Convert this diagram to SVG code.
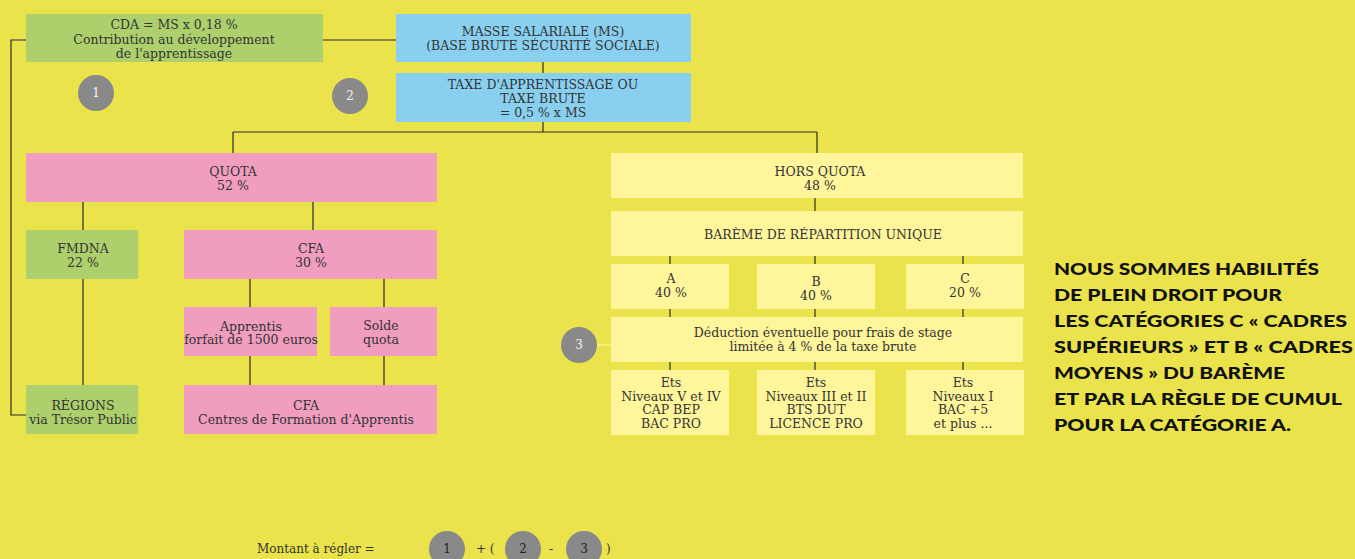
<svg xmlns="http://www.w3.org/2000/svg" width="1355" height="559" viewBox="0 0 1355 559">
<style>
.bg{fill:#EAE34B}
.g{fill:#AED06C}
.b{fill:#89D0F0}
.p{fill:#F09DC0}
.y{fill:#FFF59A}
.c{fill:#898989}
.t{font-family:"DejaVu Serif","Liberation Serif",serif;font-size:12.5px;fill:#333;text-anchor:middle}
.n{font-family:"DejaVu Serif","Liberation Serif",serif;font-size:12px;fill:#f2f2f2;text-anchor:middle}
.nd{font-family:"DejaVu Serif","Liberation Serif",serif;font-size:12px;fill:#222;text-anchor:middle}
.f{font-family:"DejaVu Serif","Liberation Serif",serif;font-size:12px;fill:#333}
.h{font-family:Lato,"Liberation Sans",Arial,sans-serif;font-size:17px;font-weight:900;fill:#111}
.ln{stroke:#2b2b2b;stroke-width:1.2;fill:none}
</style>
<rect class="bg" x="0" y="0" width="1355" height="559"/>
<g id="connectors">
<path class="ln" d="M323 40H396"/>
<path class="ln" d="M26 40H11V415H26"/>
<path class="ln" d="M543 62V73"/>
<path class="ln" d="M543 122V132M233 132H817M233 132V153M817 132V153"/>
<path class="ln" d="M83 202V230M313 202V230"/>
<path class="ln" d="M83 279V385"/>
<path class="ln" d="M250 279V307M384 279V307M250 356V385M384 356V385"/>
<path class="ln" d="M815 198V211"/>
<path class="ln" d="M670 256V264M815 256V264M963 256V264"/>
<path class="ln" d="M670 309V317M815 309V317M963 309V317"/>
<path class="ln" d="M670 362V370M815 362V370M963 362V370"/>
<path d="M597 345H611" stroke="#FFF59A" stroke-width="1.2"/>
</g>
<g id="cda"><rect class="g" x="26" y="14" width="297" height="48"/>
<text class="t" x="174" y="29">CDA = MS x 0,18 %</text>
<text class="t" x="174" y="44">Contribution au développement</text>
<text class="t" x="174" y="58">de l'apprentissage</text></g>
<g id="ms"><rect class="b" x="396" y="14" width="295" height="48"/>
<text class="t" x="543" y="36">MASSE SALARIALE (MS)</text>
<text class="t" x="543" y="50">(BASE BRUTE SÉCURITÉ SOCIALE)</text></g>
<g id="taxe"><rect class="b" x="396" y="73" width="295" height="49"/>
<text class="t" x="543" y="89">TAXE D'APPRENTISSAGE OU</text>
<text class="t" x="543" y="103">TAXE BRUTE</text>
<text class="t" x="543" y="117">= 0,5 % x MS</text></g>
<g id="c1"><circle class="c" cx="96" cy="93" r="18"/><text class="n" x="96" y="97">1</text></g>
<g id="c2"><circle class="c" cx="350" cy="96" r="18"/><text class="n" x="350" y="100">2</text></g>
<g id="quota"><rect class="p" x="26" y="153" width="411" height="49"/>
<text class="t" x="233" y="176">QUOTA</text>
<text class="t" x="233" y="190">52 %</text></g>
<g id="fmdna"><rect class="g" x="26" y="230" width="112" height="49"/>
<text class="t" x="83" y="253">FMDNA</text>
<text class="t" x="83" y="267">22 %</text></g>
<g id="cfa30"><rect class="p" x="184" y="230" width="253" height="49"/>
<text class="t" x="311" y="253">CFA</text>
<text class="t" x="311" y="267">30 %</text></g>
<g id="apprentis"><rect class="p" x="184" y="307" width="133" height="49"/>
<text class="t" x="251" y="331">Apprentis</text>
<text class="t" x="251" y="344">forfait de 1500 euros</text></g>
<g id="solde"><rect class="p" x="330" y="307" width="107" height="49"/>
<text class="t" x="381" y="330">Solde</text>
<text class="t" x="381" y="344">quota</text></g>
<g id="regions"><rect class="g" x="26" y="385" width="112" height="49"/>
<text class="t" x="83" y="410">RÉGIONS</text>
<text class="t" x="83" y="424">via Trésor Public</text></g>
<g id="cfacentres"><rect class="p" x="184" y="385" width="253" height="49"/>
<text class="t" x="306" y="410">CFA</text>
<text class="t" x="306" y="424">Centres de Formation d'Apprentis</text></g>
<g id="horsquota"><rect class="y" x="611" y="153" width="412" height="45"/>
<text class="t" x="820" y="176">HORS QUOTA</text>
<text class="t" x="820" y="190">48 %</text></g>
<g id="bareme"><rect class="y" x="611" y="211" width="412" height="45"/>
<text class="t" x="823" y="239">BARÈME DE RÉPARTITION UNIQUE</text></g>
<g id="a"><rect class="y" x="611" y="264" width="118" height="45"/>
<text class="t" x="671" y="283">A</text>
<text class="t" x="671" y="297">40 %</text></g>
<g id="bb"><rect class="y" x="757" y="264" width="118" height="45"/>
<text class="t" x="816" y="286">B</text>
<text class="t" x="816" y="300">40 %</text></g>
<g id="cc"><rect class="y" x="906" y="264" width="118" height="45"/>
<text class="t" x="965" y="283">C</text>
<text class="t" x="965" y="297">20 %</text></g>
<g id="deduction"><rect class="y" x="611" y="317" width="412" height="45"/>
<text class="t" x="823" y="337">Déduction éventuelle pour frais de stage</text>
<text class="t" x="823" y="351">limitée à 4 %  de la taxe brute</text></g>
<g id="c3"><circle class="c" cx="579" cy="345" r="18"/><text class="n" x="579" y="349">3</text></g>
<g id="etsa"><rect class="y" x="611" y="370" width="118" height="65"/>
<text class="t" x="671" y="387">Ets</text>
<text class="t" x="671" y="401">Niveaux V et IV</text>
<text class="t" x="671" y="414">CAP BEP</text>
<text class="t" x="671" y="428">BAC PRO</text></g>
<g id="etsb"><rect class="y" x="757" y="370" width="118" height="65"/>
<text class="t" x="816" y="387">Ets</text>
<text class="t" x="816" y="401">Niveaux III et II</text>
<text class="t" x="816" y="414">BTS DUT</text>
<text class="t" x="816" y="428">LICENCE PRO</text></g>
<g id="etsc"><rect class="y" x="906" y="370" width="118" height="65"/>
<text class="t" x="963" y="387">Ets</text>
<text class="t" x="963" y="401">Niveaux I</text>
<text class="t" x="963" y="414">BAC +5</text>
<text class="t" x="963" y="428">et plus ...</text></g>
<g id="note">
<text class="h" x="1054" y="275" textLength="265" lengthAdjust="spacingAndGlyphs">NOUS SOMMES HABILITÉS</text>
<text class="h" x="1054" y="301" textLength="228" lengthAdjust="spacingAndGlyphs">DE PLEIN DROIT POUR</text>
<text class="h" x="1054" y="327" textLength="293" lengthAdjust="spacingAndGlyphs">LES CATÉGORIES C « CADRES</text>
<text class="h" x="1054" y="353" textLength="299" lengthAdjust="spacingAndGlyphs">SUPÉRIEURS » ET B « CADRES</text>
<text class="h" x="1054" y="379" textLength="231" lengthAdjust="spacingAndGlyphs">MOYENS » DU BARÈME</text>
<text class="h" x="1054" y="405" textLength="288" lengthAdjust="spacingAndGlyphs">ET PAR LA RÈGLE DE CUMUL</text>
<text class="h" x="1054" y="431" textLength="237" lengthAdjust="spacingAndGlyphs">POUR LA CATÉGORIE A.</text>
</g>
<g id="formula">
<text class="f" x="257" y="553">Montant à régler =</text>
<circle class="c" cx="447" cy="549" r="18"/><text class="nd" x="447" y="553">1</text>
<text class="f" x="476" y="553">+ (</text>
<circle class="c" cx="523" cy="549" r="18"/><text class="nd" x="523" y="553">2</text>
<text class="f" x="549" y="553">-</text>
<circle class="c" cx="584" cy="549" r="18"/><text class="nd" x="584" y="553">3</text>
<text class="f" x="606" y="553">)</text>
</g>
</svg>
